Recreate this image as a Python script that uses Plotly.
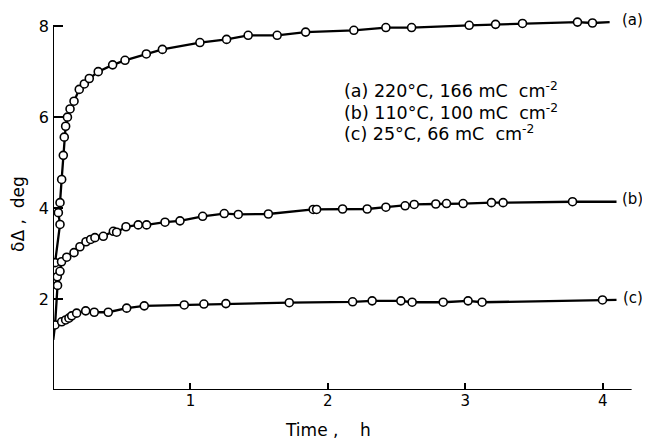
import plotly.graph_objects as go

# ---- data (time in h, delta in deg) ----
a_t = [0.015, 0.051, 0.039, 0.051, 0.063, 0.075, 0.082, 0.092, 0.105, 0.124, 0.153, 0.191, 0.228,
       0.264, 0.329, 0.434, 0.524, 0.679, 0.796, 1.069, 1.263, 1.420, 1.631, 1.838, 2.189, 2.422,
       2.609, 3.028, 3.220, 3.416, 3.816, 3.925]
a_v = [2.80, 3.64, 3.90, 4.12, 4.63, 5.16, 5.56, 5.80, 6.00, 6.18, 6.35, 6.61, 6.73,
       6.85, 7.00, 7.15, 7.25, 7.39, 7.49, 7.64, 7.71, 7.80, 7.80, 7.87, 7.91, 7.97,
       7.97, 8.02, 8.04, 8.06, 8.09, 8.07]
a_end = (4.05, 8.09)

b_t = [0.033, 0.031, 0.051, 0.062, 0.100, 0.153, 0.196, 0.240, 0.274, 0.305, 0.366, 0.439, 0.463,
       0.531, 0.620, 0.681, 0.815, 0.924, 1.089, 1.246, 1.348, 1.567, 1.893, 1.918, 2.107, 2.286,
       2.422, 2.562, 2.628, 2.785, 2.863, 2.984, 3.190, 3.275, 3.780]
b_v = [2.30, 2.49, 2.61, 2.82, 2.92, 3.02, 3.15, 3.26, 3.31, 3.35, 3.38, 3.49, 3.47,
       3.59, 3.63, 3.63, 3.69, 3.72, 3.82, 3.88, 3.86, 3.87, 3.97, 3.97, 3.98, 3.98,
       4.02, 4.05, 4.08, 4.09, 4.10, 4.10, 4.12, 4.12, 4.14]
b_start = (0.015, 1.43)
b_end = (4.10, 4.14)

c_t = [0.015, 0.063, 0.092, 0.116, 0.136, 0.172, 0.238, 0.300, 0.402, 0.536, 0.664, 0.955,
       1.098, 1.258, 1.719, 2.180, 2.322, 2.531, 2.613, 2.839, 3.020, 3.122, 3.998]
c_v = [1.43, 1.50, 1.54, 1.58, 1.63, 1.69, 1.74, 1.71, 1.71, 1.80, 1.85, 1.87,
       1.89, 1.90, 1.92, 1.94, 1.96, 1.96, 1.93, 1.93, 1.96, 1.93, 1.98]
c_start = (0.002, 1.10)
c_end = (4.10, 1.98)

x_ticks = [1, 2, 3, 4]
y_ticks = [2, 4, 6, 8]

legend_lines = ["(a) 220°C, 166 mC  cm<sup>-2</sup>",
                "(b) 110°C, 100 mC  cm<sup>-2</sup>",
                "(c) 25°C, 66 mC  cm<sup>-2</sup>"]
curve_labels = ["(a)", "(b)", "(c)"]

FONT = "DejaVu Sans"
fig = go.Figure()

series = [
    (None, a_t, a_v, a_end),
    (b_start, b_t, b_v, b_end),
    (c_start, c_t, c_v, c_end),
]
for start, t, v, end in series:
    lt = ([start[0]] if start else []) + t + [end[0]]
    lv = ([start[1]] if start else []) + v + [end[1]]
    fig.add_trace(go.Scatter(x=lt, y=lv, mode="lines",
                             line=dict(color="black", width=2.3), hoverinfo="skip"))
    fig.add_trace(go.Scatter(x=t, y=v, mode="markers",
                             marker=dict(symbol="circle", size=8, color="white",
                                         line=dict(color="black", width=1.6))))

# axis lines
fig.add_shape(type="line", x0=0, x1=0, y0=0, y1=8, xref="x", yref="y",
              line=dict(color="black", width=2))
fig.add_shape(type="line", x0=0, x1=4.21, y0=0, y1=0, xref="x", yref="y",
              line=dict(color="black", width=2))

# curve end labels
for lab, end in zip(curve_labels, [a_end, b_end, c_end]):
    fig.add_annotation(x=1.0, xref="paper", y=end[1] + 0.05, yref="y", text=lab,
                       showarrow=False, xanchor="right", yanchor="middle", xshift=1,
                       font=dict(family=FONT, size=15, color="black"))

# legend text block
for i, line in enumerate(legend_lines):
    fig.add_annotation(x=2.10, y=6.59 - i * 0.47, text=line, showarrow=False,
                       xanchor="left", yanchor="middle",
                       font=dict(family=FONT, size=17.5, color="black"))

# axis titles
fig.add_annotation(x=2.0, y=-0.105, xref="x", yref="paper", text="Time ,    h",
                   showarrow=False, xanchor="center", yanchor="middle",
                   font=dict(family=FONT, size=17, color="black"))
fig.add_annotation(x=-0.058, y=0.46, xref="paper", yref="paper", text="δΔ ,  deg",
                   textangle=-90, showarrow=False, xanchor="center", yanchor="middle",
                   font=dict(family=FONT, size=17, color="black"))

# page body has an 8px default margin, so the figure is shrunk and shifted to compensate
fig.update_layout(
    width=642, height=431,
    margin=dict(l=45, r=6, t=0, b=49),
    paper_bgcolor="white", plot_bgcolor="white",
    showlegend=False,
    xaxis=dict(range=[0, 4.3], tickvals=x_ticks, ticktext=[str(v) for v in x_ticks],
               ticks="inside", ticklen=7, tickwidth=1.5, tickcolor="black",
               showline=False, showgrid=False, zeroline=False,
               tickfont=dict(family=FONT, size=15, color="black")),
    yaxis=dict(range=[0, 8.4], tickvals=y_ticks, ticktext=[str(v) for v in y_ticks],
               ticks="inside", ticklen=10, tickwidth=1.5, tickcolor="black",
               showline=False, showgrid=False, zeroline=False, ticklabelstandoff=3,
               tickfont=dict(family=FONT, size=16, color="black")),
)

fig.write_html("out.html")
